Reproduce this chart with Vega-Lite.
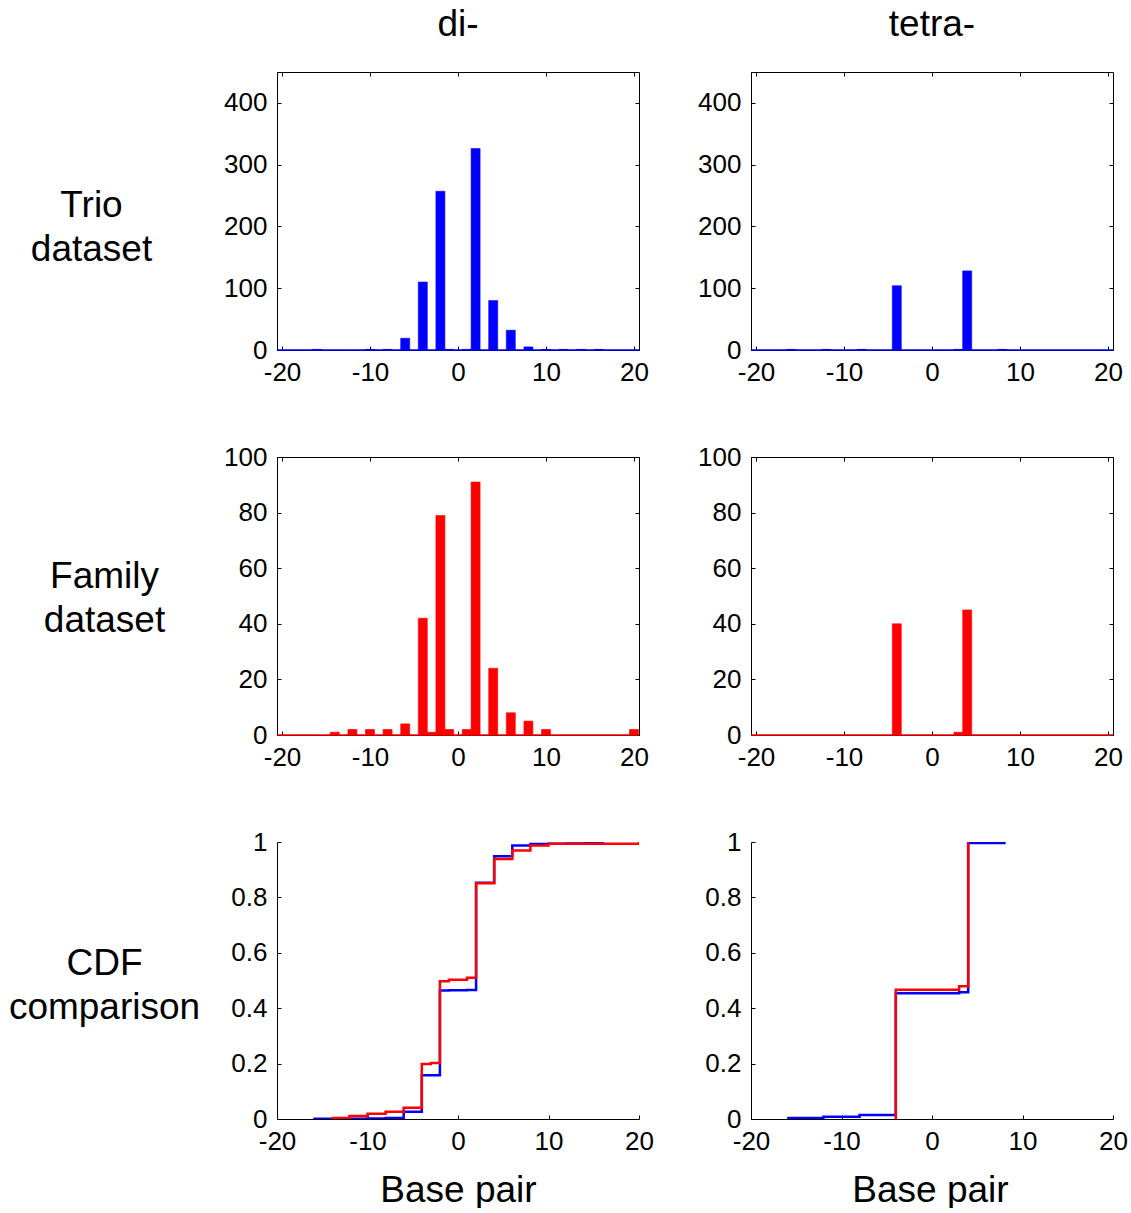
{
  "$schema": "https://vega.github.io/schema/vega-lite/v6.json",
  "background": "white",
  "padding": {"left": 8, "top": 5, "right": 0, "bottom": 0},
  "columns": 2,
  "bounds": "flush",
  "spacing": {"row": 107, "column": 112},
  "datasets": {
    "trio_di": [
      {"bp": -16, "count": 1}, {"bp": -10, "count": 1}, {"bp": -8, "count": 1}, {"bp": -6, "count": 19},
      {"bp": -4, "count": 110}, {"bp": -2, "count": 257}, {"bp": -1, "count": 1}, {"bp": 1, "count": 1},
      {"bp": 2, "count": 326}, {"bp": 4, "count": 80}, {"bp": 6, "count": 32}, {"bp": 8, "count": 5},
      {"bp": 10, "count": 1}, {"bp": 12, "count": 1}, {"bp": 14, "count": 1}, {"bp": 16, "count": 1}
    ],
    "trio_tetra": [
      {"bp": -16, "count": 1}, {"bp": -12, "count": 1}, {"bp": -8, "count": 1}, {"bp": -4, "count": 104},
      {"bp": 3, "count": 1}, {"bp": 4, "count": 128}, {"bp": 8, "count": 1}
    ],
    "family_di": [
      {"bp": -14, "count": 1}, {"bp": -12, "count": 2}, {"bp": -10, "count": 2}, {"bp": -8, "count": 2},
      {"bp": -6, "count": 4}, {"bp": -4, "count": 42}, {"bp": -3, "count": 1}, {"bp": -2, "count": 79},
      {"bp": -1, "count": 2}, {"bp": 1, "count": 2}, {"bp": 2, "count": 91}, {"bp": 4, "count": 24},
      {"bp": 6, "count": 8}, {"bp": 8, "count": 5}, {"bp": 10, "count": 2}, {"bp": 20, "count": 2}
    ],
    "family_tetra": [
      {"bp": -4, "count": 40}, {"bp": 3, "count": 1}, {"bp": 4, "count": 45}
    ],
    "cdf_trio_di": [
      {"bp": -16, "cdf": 0.001}, {"bp": -10, "cdf": 0.002}, {"bp": -8, "cdf": 0.004}, {"bp": -6, "cdf": 0.026},
      {"bp": -4, "cdf": 0.158}, {"bp": -2, "cdf": 0.464}, {"bp": -1, "cdf": 0.465}, {"bp": 1, "cdf": 0.466},
      {"bp": 2, "cdf": 0.853}, {"bp": 4, "cdf": 0.949}, {"bp": 6, "cdf": 0.987}, {"bp": 8, "cdf": 0.993},
      {"bp": 10, "cdf": 0.994}, {"bp": 12, "cdf": 0.995}, {"bp": 14, "cdf": 0.996}, {"bp": 16, "cdf": 1.0}
    ],
    "cdf_family_di": [
      {"bp": -14, "cdf": 0.004}, {"bp": -12, "cdf": 0.011}, {"bp": -10, "cdf": 0.019}, {"bp": -8, "cdf": 0.026},
      {"bp": -6, "cdf": 0.041}, {"bp": -4, "cdf": 0.199}, {"bp": -3, "cdf": 0.202}, {"bp": -2, "cdf": 0.497},
      {"bp": -1, "cdf": 0.503}, {"bp": 1, "cdf": 0.51}, {"bp": 2, "cdf": 0.851}, {"bp": 4, "cdf": 0.939},
      {"bp": 6, "cdf": 0.969}, {"bp": 8, "cdf": 0.987}, {"bp": 10, "cdf": 0.994}, {"bp": 20, "cdf": 1.0}
    ],
    "cdf_trio_tetra": [
      {"bp": -16, "cdf": 0.004}, {"bp": -12, "cdf": 0.008}, {"bp": -8, "cdf": 0.014}, {"bp": -4, "cdf": 0.454},
      {"bp": 3, "cdf": 0.458}, {"bp": 4, "cdf": 0.996}, {"bp": 8, "cdf": 1.0}
    ],
    "cdf_family_tetra": [
      {"bp": -4, "cdf": 0.0}, {"bp": -4, "cdf": 0.467}, {"bp": 3, "cdf": 0.479}, {"bp": 4, "cdf": 1.0}
    ]
  },
  "concat": [
    {
      "width": 362, "height": 278,
      "view": {"stroke": "black", "strokeWidth": 1},
      "title": {"text": "di-"},
      "data": {"name": "trio_di"},
      "layer": [
        {
          "mark": {"type": "bar", "size": 9, "color": "#0000ff", "stroke": "#0000ff", "strokeWidth": 0.6, "clip": true},
          "encoding": {
            "x": {"field": "bp", "type": "quantitative", "scale": {"domain": [-20, 20], "nice": false, "zero": false},
                  "axis": {"orient": "bottom", "values": [-20, -10, 0, 10, 20], "title": null, "labelExpr": "'' + datum.value"}},
            "y": {"field": "count", "type": "quantitative", "scale": {"domain": [0, 450], "nice": false},
                  "axis": {"orient": "left", "values": [0, 100, 200, 300, 400], "labelExpr": "'' + datum.value",
                           "title": ["Trio", "dataset"], "titleAngle": 0, "titleAlign": "center", "titleBaseline": "alphabetic",
                           "titleX": -186, "titleY": 144, "titleLineHeight": 44}}
          }
        },
        {
          "mark": {"type": "bar", "size": 9, "opacity": 0},
          "encoding": {
            "x": {"field": "bp", "type": "quantitative", "axis": {"orient": "top", "values": [-20, -10, 0, 10, 20], "labels": false, "domain": false, "title": null}},
            "y": {"field": "count", "type": "quantitative", "axis": {"orient": "right", "values": [0, 100, 200, 300, 400], "labels": false, "domain": false, "title": null}}
          }
        },
        {
          "data": {"values": [{}]},
          "mark": {"type": "rule", "color": "#0000ff", "strokeWidth": 1.5},
          "encoding": {"y": {"datum": 0, "type": "quantitative", "axis": null}}
        }
      ],
      "resolve": {"axis": {"x": "independent", "y": "independent"}}
    },
    {
      "width": 362, "height": 278,
      "view": {"stroke": "black", "strokeWidth": 1},
      "title": {"text": "tetra-"},
      "data": {"name": "trio_tetra"},
      "layer": [
        {
          "mark": {"type": "bar", "size": 9, "color": "#0000ff", "stroke": "#0000ff", "strokeWidth": 0.6, "clip": true},
          "encoding": {
            "x": {"field": "bp", "type": "quantitative", "scale": {"domain": [-20, 20], "nice": false, "zero": false},
                  "axis": {"orient": "bottom", "values": [-20, -10, 0, 10, 20], "title": null, "labelExpr": "'' + datum.value"}},
            "y": {"field": "count", "type": "quantitative", "scale": {"domain": [0, 450], "nice": false},
                  "axis": {"orient": "left", "values": [0, 100, 200, 300, 400], "labelExpr": "'' + datum.value", "title": null}}
          }
        },
        {
          "mark": {"type": "bar", "size": 9, "opacity": 0},
          "encoding": {
            "x": {"field": "bp", "type": "quantitative", "axis": {"orient": "top", "values": [-20, -10, 0, 10, 20], "labels": false, "domain": false, "title": null}},
            "y": {"field": "count", "type": "quantitative", "axis": {"orient": "right", "values": [0, 100, 200, 300, 400], "labels": false, "domain": false, "title": null}}
          }
        },
        {
          "data": {"values": [{}]},
          "mark": {"type": "rule", "color": "#0000ff", "strokeWidth": 1.5},
          "encoding": {"y": {"datum": 0, "type": "quantitative", "axis": null}}
        }
      ],
      "resolve": {"axis": {"x": "independent", "y": "independent"}}
    },
    {
      "width": 362, "height": 278,
      "view": {"stroke": "black", "strokeWidth": 1},
      "data": {"name": "family_di"},
      "layer": [
        {
          "mark": {"type": "bar", "size": 9, "color": "#ff0000", "stroke": "#ff0000", "strokeWidth": 0.6, "clip": true},
          "encoding": {
            "x": {"field": "bp", "type": "quantitative", "scale": {"domain": [-20, 20], "nice": false, "zero": false},
                  "axis": {"orient": "bottom", "values": [-20, -10, 0, 10, 20], "title": null, "labelExpr": "'' + datum.value"}},
            "y": {"field": "count", "type": "quantitative", "scale": {"domain": [0, 100], "nice": false},
                  "axis": {"orient": "left", "values": [0, 20, 40, 60, 80, 100], "labelExpr": "'' + datum.value",
                           "title": ["Family", "dataset"], "titleAngle": 0, "titleAlign": "center", "titleBaseline": "alphabetic",
                           "titleX": -173, "titleY": 130, "titleLineHeight": 44}}
          }
        },
        {
          "mark": {"type": "bar", "size": 9, "opacity": 0},
          "encoding": {
            "x": {"field": "bp", "type": "quantitative", "axis": {"orient": "top", "values": [-20, -10, 0, 10, 20], "labels": false, "domain": false, "title": null}},
            "y": {"field": "count", "type": "quantitative", "axis": {"orient": "right", "values": [0, 20, 40, 60, 80, 100], "labels": false, "domain": false, "title": null}}
          }
        },
        {
          "data": {"values": [{}]},
          "mark": {"type": "rule", "color": "#ff0000", "strokeWidth": 1.5},
          "encoding": {"y": {"datum": 0, "type": "quantitative", "axis": null}}
        }
      ],
      "resolve": {"axis": {"x": "independent", "y": "independent"}}
    },
    {
      "width": 362, "height": 278,
      "view": {"stroke": "black", "strokeWidth": 1},
      "data": {"name": "family_tetra"},
      "layer": [
        {
          "mark": {"type": "bar", "size": 9, "color": "#ff0000", "stroke": "#ff0000", "strokeWidth": 0.6, "clip": true},
          "encoding": {
            "x": {"field": "bp", "type": "quantitative", "scale": {"domain": [-20, 20], "nice": false, "zero": false},
                  "axis": {"orient": "bottom", "values": [-20, -10, 0, 10, 20], "title": null, "labelExpr": "'' + datum.value"}},
            "y": {"field": "count", "type": "quantitative", "scale": {"domain": [0, 100], "nice": false},
                  "axis": {"orient": "left", "values": [0, 20, 40, 60, 80, 100], "labelExpr": "'' + datum.value", "title": null}}
          }
        },
        {
          "mark": {"type": "bar", "size": 9, "opacity": 0},
          "encoding": {
            "x": {"field": "bp", "type": "quantitative", "axis": {"orient": "top", "values": [-20, -10, 0, 10, 20], "labels": false, "domain": false, "title": null}},
            "y": {"field": "count", "type": "quantitative", "axis": {"orient": "right", "values": [0, 20, 40, 60, 80, 100], "labels": false, "domain": false, "title": null}}
          }
        },
        {
          "data": {"values": [{}]},
          "mark": {"type": "rule", "color": "#ff0000", "strokeWidth": 1.5},
          "encoding": {"y": {"datum": 0, "type": "quantitative", "axis": null}}
        }
      ],
      "resolve": {"axis": {"x": "independent", "y": "independent"}}
    },
    {
      "width": 362, "height": 277,
      "view": {"stroke": null},
      "layer": [
        {
          "data": {"name": "cdf_trio_di"},
          "mark": {"type": "line", "interpolate": "step-after", "color": "#0000ff", "strokeWidth": 2.5, "clip": true},
          "encoding": {
            "x": {"field": "bp", "type": "quantitative", "scale": {"domain": [-20, 20], "nice": false, "zero": false},
                  "axis": {"orient": "bottom", "values": [-20, -10, 0, 10, 20], "labelExpr": "'' + datum.value",
                           "title": "Base pair", "titleAlign": "center", "titleBaseline": "alphabetic", "titleX": 181, "titleY": 82}},
            "y": {"field": "cdf", "type": "quantitative", "scale": {"domain": [0, 1], "nice": false},
                  "axis": {"orient": "left", "values": [0, 0.2, 0.4, 0.6, 0.8, 1], "labelExpr": "'' + datum.value",
                           "title": ["CDF", "comparison"], "titleAngle": 0, "titleAlign": "center", "titleBaseline": "alphabetic",
                           "titleX": -173, "titleY": 132, "titleLineHeight": 44}}
          }
        },
        {
          "data": {"name": "cdf_family_di"},
          "mark": {"type": "line", "interpolate": "step-after", "color": "#ff0000", "strokeWidth": 2.5, "clip": true},
          "encoding": {
            "x": {"field": "bp", "type": "quantitative"},
            "y": {"field": "cdf", "type": "quantitative"}
          }
        }
      ]
    },
    {
      "width": 362, "height": 277,
      "view": {"stroke": null},
      "layer": [
        {
          "data": {"name": "cdf_trio_tetra"},
          "mark": {"type": "line", "interpolate": "step-after", "color": "#0000ff", "strokeWidth": 2.5, "clip": true},
          "encoding": {
            "x": {"field": "bp", "type": "quantitative", "scale": {"domain": [-20, 20], "nice": false, "zero": false},
                  "axis": {"orient": "bottom", "values": [-20, -10, 0, 10, 20], "labelExpr": "'' + datum.value",
                           "title": "Base pair", "titleAlign": "center", "titleBaseline": "alphabetic", "titleX": 179, "titleY": 82}},
            "y": {"field": "cdf", "type": "quantitative", "scale": {"domain": [0, 1], "nice": false},
                  "axis": {"orient": "left", "values": [0, 0.2, 0.4, 0.6, 0.8, 1], "labelExpr": "'' + datum.value", "title": null}}
          }
        },
        {
          "data": {"name": "cdf_family_tetra"},
          "mark": {"type": "line", "interpolate": "step-after", "color": "#ff0000", "strokeWidth": 2.5, "clip": true},
          "encoding": {
            "x": {"field": "bp", "type": "quantitative"},
            "y": {"field": "cdf", "type": "quantitative"}
          }
        }
      ]
    }
  ],
  "config": {
    "font": "Liberation Sans",
    "view": {"stroke": "black"},
    "axis": {
      "domainColor": "black", "tickColor": "black", "labelColor": "black",
      "labelFont": "Liberation Sans", "labelFontSize": 26,
      "tickSize": -4, "grid": false, "labelFlush": false, "labelOverlap": false, "labelBound": false,
      "titleFont": "Liberation Sans", "titleFontSize": 37, "titleFontWeight": "normal", "titleColor": "black",
      "titlePadding": 0, "domainWidth": 1, "tickWidth": 1
    },
    "axisX": {"labelPadding": 13},
    "axisY": {"labelPadding": 14},
    "title": {"font": "Liberation Sans", "fontSize": 37, "fontWeight": "normal", "color": "black",
              "baseline": "alphabetic", "offset": 28, "anchor": "middle", "frame": "group"}
  }
}
